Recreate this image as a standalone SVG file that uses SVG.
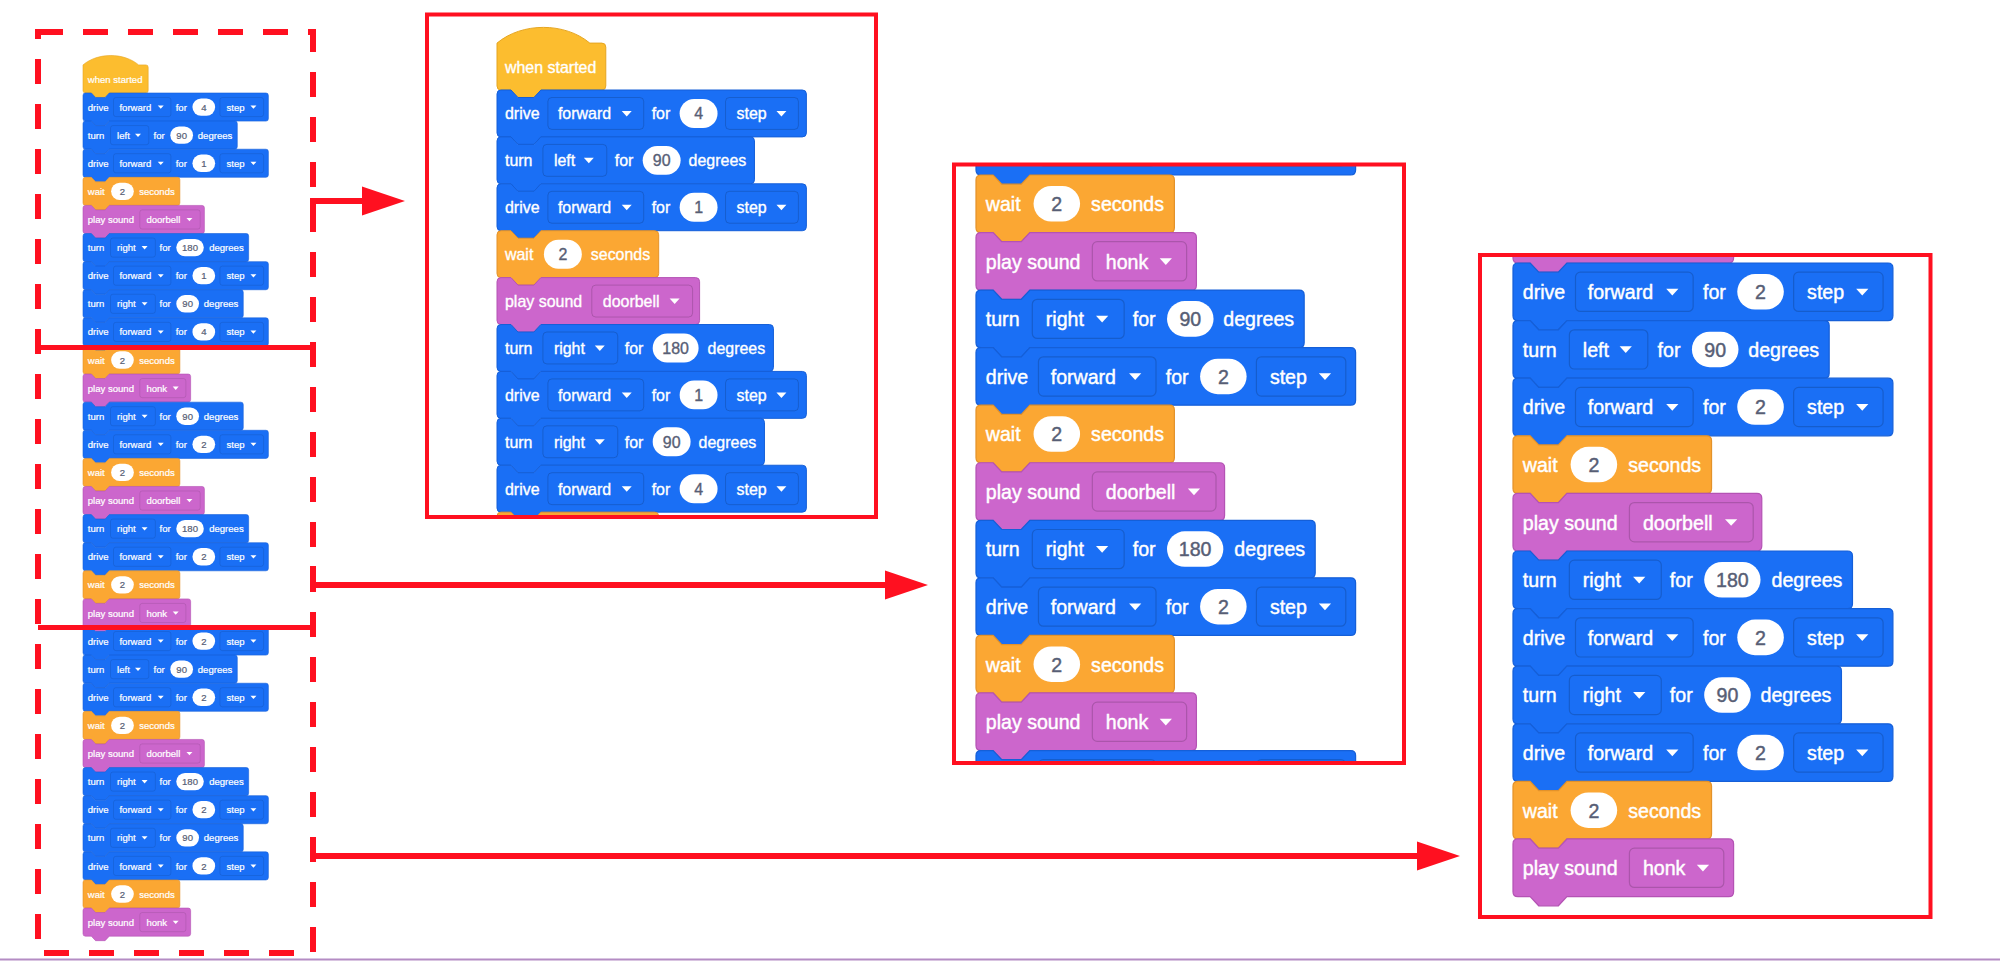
<svg xmlns="http://www.w3.org/2000/svg" xmlns:xlink="http://www.w3.org/1999/xlink" width="2000" height="961" viewBox="0 0 2000 961">
<style>
text{font-family:"Liberation Sans",Arial,Helvetica,sans-serif;font-size:16px;fill:#ffffff;stroke:#ffffff;stroke-width:0.35px}
.n{fill:#575e75;stroke:#575e75;text-anchor:middle}
.blue{fill:#1a6ff5;stroke:#155fd8;stroke-width:1}
.orange{fill:#fba733;stroke:#e3922a;stroke-width:1}
.yellow{fill:#fcbd2f;stroke:#e5a520;stroke-width:1}
.purple{fill:#cc66cc;stroke:#b453b4;stroke-width:1}
.dd{fill:none;stroke:rgba(0,0,0,0.16);stroke-width:1}
.ov{fill:#ffffff}
.tri{fill:#ffffff}
.box{fill:none;stroke:#ff1020;stroke-width:4}
.dash{fill:none;stroke:#ff1020;stroke-width:6;stroke-dasharray:25 20}
.div{fill:none;stroke:#ff1020;stroke-width:5}
</style>
<defs>
<marker id="ah" markerUnits="userSpaceOnUse" markerWidth="46" markerHeight="32" viewBox="-2 -16 46 32" refX="0" refY="0" orient="auto" overflow="visible"><path d="M-1,-14.5 L42,0 L-1,14.5 Z" fill="#ff1020"/></marker>
<g id="s-hat"><path class="yellow" d="M0,-47 C25,-68 68,-68 93,-47 H105 Q109,-47 109,-43 V-4 Q109,0 105,0 H44 L37,7.5 H21 L14,0 H4 Q0,0 0,-4 Z"/></g>
<g id="s-drive"><path class="blue" d="M0,4 Q0,0 4,0 H14 L21,7.5 H37 L44,0 H306 Q310,0 310,4 V43 Q310,47 306,47 H44 L37,54.5 H21 L14,47 H4 Q0,47 0,43 Z"/><rect class="dd" x="51" y="7.5" width="96" height="32" rx="4"/><rect class="ov" x="183" y="9" width="38" height="29" rx="14.5"/><rect class="dd" x="229" y="7.5" width="73" height="32" rx="4"/><path class="tri" d="M125,21 H135 L130,26.5 Z M280,21 H290 L285,26.5 Z"/></g>
<g id="s-tl90"><path class="blue" d="M0,4 Q0,0 4,0 H14 L21,7.5 H37 L44,0 H254 Q258,0 258,4 V43 Q258,47 254,47 H44 L37,54.5 H21 L14,47 H4 Q0,47 0,43 Z"/><rect class="dd" x="46" y="7.5" width="64" height="32" rx="4"/><rect class="ov" x="146" y="9" width="38" height="29" rx="14.5"/><path class="tri" d="M87,21 H97 L92,26.5 Z"/></g>
<g id="s-tr180"><path class="blue" d="M0,4 Q0,0 4,0 H14 L21,7.5 H37 L44,0 H273 Q277,0 277,4 V43 Q277,47 273,47 H44 L37,54.5 H21 L14,47 H4 Q0,47 0,43 Z"/><rect class="dd" x="46" y="7.5" width="75" height="32" rx="4"/><rect class="ov" x="156" y="9" width="46" height="29" rx="14.5"/><path class="tri" d="M98,21 H108 L103,26.5 Z"/></g>
<g id="s-tr90"><path class="blue" d="M0,4 Q0,0 4,0 H14 L21,7.5 H37 L44,0 H264 Q268,0 268,4 V43 Q268,47 264,47 H44 L37,54.5 H21 L14,47 H4 Q0,47 0,43 Z"/><rect class="dd" x="46" y="7.5" width="75" height="32" rx="4"/><rect class="ov" x="156" y="9" width="38" height="29" rx="14.5"/><path class="tri" d="M98,21 H108 L103,26.5 Z"/></g>
<g id="s-wait"><path class="orange" d="M0,4 Q0,0 4,0 H14 L21,7.5 H37 L44,0 H158 Q162,0 162,4 V43 Q162,47 158,47 H44 L37,54.5 H21 L14,47 H4 Q0,47 0,43 Z"/><rect class="ov" x="47" y="9" width="38" height="29" rx="14.5"/></g>
<g id="s-door"><path class="purple" d="M0,4 Q0,0 4,0 H14 L21,7.5 H37 L44,0 H199 Q203,0 203,4 V43 Q203,47 199,47 H44 L37,54.5 H21 L14,47 H4 Q0,47 0,43 Z"/><rect class="dd" x="95" y="7.5" width="101" height="32" rx="4"/><path class="tri" d="M173,21 H183 L178,26.5 Z"/></g>
<g id="s-honk"><path class="purple" d="M0,4 Q0,0 4,0 H14 L21,7.5 H37 L44,0 H176 Q180,0 180,4 V43 Q180,47 176,47 H44 L37,54.5 H21 L14,47 H4 Q0,47 0,43 Z"/><rect class="dd" x="95" y="7.5" width="77" height="32" rx="4"/><path class="tri" d="M150,21 H160 L155,26.5 Z"/></g>
<clipPath id="c1"><rect x="427" y="14.5" width="449" height="502.5"/></clipPath>
<clipPath id="c2"><rect x="954" y="164.5" width="450" height="598.5"/></clipPath>
<clipPath id="c3"><rect x="1480" y="255" width="450.5" height="662"/></clipPath>
</defs>
<rect width="2000" height="961" fill="#ffffff"/>

<!-- Full program (left) -->
<g id="full-program">
<g transform="translate(83,93) scale(0.598)">
<g id="f-b1"><use href="#s-hat"/><text x="8" y="-17.5">when started</text></g>
<g id="f-b2" transform="translate(0,0)"><use href="#s-drive"/><text y="29.5"><tspan x="8">drive</tspan><tspan x="61">forward</tspan><tspan x="155">for</tspan><tspan x="240">step</tspan></text><text class="n" x="202" y="29.5">4</text></g>
<g id="f-b3" transform="translate(0,47)"><use href="#s-tl90"/><text y="29.5"><tspan x="8">turn</tspan><tspan x="57">left</tspan><tspan x="118">for</tspan><tspan x="192">degrees</tspan></text><text class="n" x="165" y="29.5">90</text></g>
<g id="f-b4" transform="translate(0,94)"><use href="#s-drive"/><text y="29.5"><tspan x="8">drive</tspan><tspan x="61">forward</tspan><tspan x="155">for</tspan><tspan x="240">step</tspan></text><text class="n" x="202" y="29.5">1</text></g>
<g id="f-b5" transform="translate(0,141)"><use href="#s-wait"/><text y="29.5"><tspan x="8">wait</tspan><tspan x="94">seconds</tspan></text><text class="n" x="66" y="29.5">2</text></g>
<g id="f-b6" transform="translate(0,188)"><use href="#s-door"/><text y="29.5"><tspan x="8">play sound</tspan><tspan x="106">doorbell</tspan></text></g>
<g id="f-b7" transform="translate(0,235)"><use href="#s-tr180"/><text y="29.5"><tspan x="8">turn</tspan><tspan x="57">right</tspan><tspan x="128">for</tspan><tspan x="211">degrees</tspan></text><text class="n" x="179" y="29.5">180</text></g>
<g id="f-b8" transform="translate(0,282)"><use href="#s-drive"/><text y="29.5"><tspan x="8">drive</tspan><tspan x="61">forward</tspan><tspan x="155">for</tspan><tspan x="240">step</tspan></text><text class="n" x="202" y="29.5">1</text></g>
<g id="f-b9" transform="translate(0,329)"><use href="#s-tr90"/><text y="29.5"><tspan x="8">turn</tspan><tspan x="57">right</tspan><tspan x="128">for</tspan><tspan x="202">degrees</tspan></text><text class="n" x="175" y="29.5">90</text></g>
<g id="f-b10" transform="translate(0,376)"><use href="#s-drive"/><text y="29.5"><tspan x="8">drive</tspan><tspan x="61">forward</tspan><tspan x="155">for</tspan><tspan x="240">step</tspan></text><text class="n" x="202" y="29.5">4</text></g>
<g id="f-b11" transform="translate(0,423)"><use href="#s-wait"/><text y="29.5"><tspan x="8">wait</tspan><tspan x="94">seconds</tspan></text><text class="n" x="66" y="29.5">2</text></g>
<g id="f-b12" transform="translate(0,470)"><use href="#s-honk"/><text y="29.5"><tspan x="8">play sound</tspan><tspan x="106">honk</tspan></text></g>
<g id="f-b13" transform="translate(0,517)"><use href="#s-tr90"/><text y="29.5"><tspan x="8">turn</tspan><tspan x="57">right</tspan><tspan x="128">for</tspan><tspan x="202">degrees</tspan></text><text class="n" x="175" y="29.5">90</text></g>
<g id="f-b14" transform="translate(0,564)"><use href="#s-drive"/><text y="29.5"><tspan x="8">drive</tspan><tspan x="61">forward</tspan><tspan x="155">for</tspan><tspan x="240">step</tspan></text><text class="n" x="202" y="29.5">2</text></g>
<g id="f-b15" transform="translate(0,611)"><use href="#s-wait"/><text y="29.5"><tspan x="8">wait</tspan><tspan x="94">seconds</tspan></text><text class="n" x="66" y="29.5">2</text></g>
<g id="f-b16" transform="translate(0,658)"><use href="#s-door"/><text y="29.5"><tspan x="8">play sound</tspan><tspan x="106">doorbell</tspan></text></g>
<g id="f-b17" transform="translate(0,705)"><use href="#s-tr180"/><text y="29.5"><tspan x="8">turn</tspan><tspan x="57">right</tspan><tspan x="128">for</tspan><tspan x="211">degrees</tspan></text><text class="n" x="179" y="29.5">180</text></g>
<g id="f-b18" transform="translate(0,752)"><use href="#s-drive"/><text y="29.5"><tspan x="8">drive</tspan><tspan x="61">forward</tspan><tspan x="155">for</tspan><tspan x="240">step</tspan></text><text class="n" x="202" y="29.5">2</text></g>
<g id="f-b19" transform="translate(0,799)"><use href="#s-wait"/><text y="29.5"><tspan x="8">wait</tspan><tspan x="94">seconds</tspan></text><text class="n" x="66" y="29.5">2</text></g>
<g id="f-b20" transform="translate(0,846)"><use href="#s-honk"/><text y="29.5"><tspan x="8">play sound</tspan><tspan x="106">honk</tspan></text></g>
<g id="f-b21" transform="translate(0,893)"><use href="#s-drive"/><text y="29.5"><tspan x="8">drive</tspan><tspan x="61">forward</tspan><tspan x="155">for</tspan><tspan x="240">step</tspan></text><text class="n" x="202" y="29.5">2</text></g>
<g id="f-b22" transform="translate(0,940)"><use href="#s-tl90"/><text y="29.5"><tspan x="8">turn</tspan><tspan x="57">left</tspan><tspan x="118">for</tspan><tspan x="192">degrees</tspan></text><text class="n" x="165" y="29.5">90</text></g>
<g id="f-b23" transform="translate(0,987)"><use href="#s-drive"/><text y="29.5"><tspan x="8">drive</tspan><tspan x="61">forward</tspan><tspan x="155">for</tspan><tspan x="240">step</tspan></text><text class="n" x="202" y="29.5">2</text></g>
<g id="f-b24" transform="translate(0,1034)"><use href="#s-wait"/><text y="29.5"><tspan x="8">wait</tspan><tspan x="94">seconds</tspan></text><text class="n" x="66" y="29.5">2</text></g>
<g id="f-b25" transform="translate(0,1081)"><use href="#s-door"/><text y="29.5"><tspan x="8">play sound</tspan><tspan x="106">doorbell</tspan></text></g>
<g id="f-b26" transform="translate(0,1128)"><use href="#s-tr180"/><text y="29.5"><tspan x="8">turn</tspan><tspan x="57">right</tspan><tspan x="128">for</tspan><tspan x="211">degrees</tspan></text><text class="n" x="179" y="29.5">180</text></g>
<g id="f-b27" transform="translate(0,1175)"><use href="#s-drive"/><text y="29.5"><tspan x="8">drive</tspan><tspan x="61">forward</tspan><tspan x="155">for</tspan><tspan x="240">step</tspan></text><text class="n" x="202" y="29.5">2</text></g>
<g id="f-b28" transform="translate(0,1222)"><use href="#s-tr90"/><text y="29.5"><tspan x="8">turn</tspan><tspan x="57">right</tspan><tspan x="128">for</tspan><tspan x="202">degrees</tspan></text><text class="n" x="175" y="29.5">90</text></g>
<g id="f-b29" transform="translate(0,1269)"><use href="#s-drive"/><text y="29.5"><tspan x="8">drive</tspan><tspan x="61">forward</tspan><tspan x="155">for</tspan><tspan x="240">step</tspan></text><text class="n" x="202" y="29.5">2</text></g>
<g id="f-b30" transform="translate(0,1316)"><use href="#s-wait"/><text y="29.5"><tspan x="8">wait</tspan><tspan x="94">seconds</tspan></text><text class="n" x="66" y="29.5">2</text></g>
<g id="f-b31" transform="translate(0,1363)"><use href="#s-honk"/><text y="29.5"><tspan x="8">play sound</tspan><tspan x="106">honk</tspan></text></g>
</g>
<rect class="dash" x="38" y="32" width="275" height="921"/>
<path class="div" d="M38,347.5 H313 M38,627.5 H313"/>
</g>

<!-- Part 1 -->
<g id="part1">
<g clip-path="url(#c1)">
<g transform="translate(497,90) scale(0.998)">
<g id="p1-b1"><use href="#s-hat"/><text x="8" y="-17.5">when started</text></g>
<g id="p1-b2" transform="translate(0,0)"><use href="#s-drive"/><text y="29.5"><tspan x="8">drive</tspan><tspan x="61">forward</tspan><tspan x="155">for</tspan><tspan x="240">step</tspan></text><text class="n" x="202" y="29.5">4</text></g>
<g id="p1-b3" transform="translate(0,47)"><use href="#s-tl90"/><text y="29.5"><tspan x="8">turn</tspan><tspan x="57">left</tspan><tspan x="118">for</tspan><tspan x="192">degrees</tspan></text><text class="n" x="165" y="29.5">90</text></g>
<g id="p1-b4" transform="translate(0,94)"><use href="#s-drive"/><text y="29.5"><tspan x="8">drive</tspan><tspan x="61">forward</tspan><tspan x="155">for</tspan><tspan x="240">step</tspan></text><text class="n" x="202" y="29.5">1</text></g>
<g id="p1-b5" transform="translate(0,141)"><use href="#s-wait"/><text y="29.5"><tspan x="8">wait</tspan><tspan x="94">seconds</tspan></text><text class="n" x="66" y="29.5">2</text></g>
<g id="p1-b6" transform="translate(0,188)"><use href="#s-door"/><text y="29.5"><tspan x="8">play sound</tspan><tspan x="106">doorbell</tspan></text></g>
<g id="p1-b7" transform="translate(0,235)"><use href="#s-tr180"/><text y="29.5"><tspan x="8">turn</tspan><tspan x="57">right</tspan><tspan x="128">for</tspan><tspan x="211">degrees</tspan></text><text class="n" x="179" y="29.5">180</text></g>
<g id="p1-b8" transform="translate(0,282)"><use href="#s-drive"/><text y="29.5"><tspan x="8">drive</tspan><tspan x="61">forward</tspan><tspan x="155">for</tspan><tspan x="240">step</tspan></text><text class="n" x="202" y="29.5">1</text></g>
<g id="p1-b9" transform="translate(0,329)"><use href="#s-tr90"/><text y="29.5"><tspan x="8">turn</tspan><tspan x="57">right</tspan><tspan x="128">for</tspan><tspan x="202">degrees</tspan></text><text class="n" x="175" y="29.5">90</text></g>
<g id="p1-b10" transform="translate(0,376)"><use href="#s-drive"/><text y="29.5"><tspan x="8">drive</tspan><tspan x="61">forward</tspan><tspan x="155">for</tspan><tspan x="240">step</tspan></text><text class="n" x="202" y="29.5">4</text></g>
<g id="p1-b11" transform="translate(0,423)"><use href="#s-wait"/></g>
</g>
</g>
<rect class="box" x="427" y="14.5" width="449" height="502.5"/>
</g>

<!-- Part 2 -->
<g id="part2">
<g clip-path="url(#c2)">
<g transform="translate(976,175) scale(1.2245)">
<g id="p2-b10" transform="translate(0,-47)"><use href="#s-drive"/></g>
<g id="p2-b11" transform="translate(0,0)"><use href="#s-wait"/><text y="29.5"><tspan x="8">wait</tspan><tspan x="94">seconds</tspan></text><text class="n" x="66" y="29.5">2</text></g>
<g id="p2-b12" transform="translate(0,47)"><use href="#s-honk"/><text y="29.5"><tspan x="8">play sound</tspan><tspan x="106">honk</tspan></text></g>
<g id="p2-b13" transform="translate(0,94)"><use href="#s-tr90"/><text y="29.5"><tspan x="8">turn</tspan><tspan x="57">right</tspan><tspan x="128">for</tspan><tspan x="202">degrees</tspan></text><text class="n" x="175" y="29.5">90</text></g>
<g id="p2-b14" transform="translate(0,141)"><use href="#s-drive"/><text y="29.5"><tspan x="8">drive</tspan><tspan x="61">forward</tspan><tspan x="155">for</tspan><tspan x="240">step</tspan></text><text class="n" x="202" y="29.5">2</text></g>
<g id="p2-b15" transform="translate(0,188)"><use href="#s-wait"/><text y="29.5"><tspan x="8">wait</tspan><tspan x="94">seconds</tspan></text><text class="n" x="66" y="29.5">2</text></g>
<g id="p2-b16" transform="translate(0,235)"><use href="#s-door"/><text y="29.5"><tspan x="8">play sound</tspan><tspan x="106">doorbell</tspan></text></g>
<g id="p2-b17" transform="translate(0,282)"><use href="#s-tr180"/><text y="29.5"><tspan x="8">turn</tspan><tspan x="57">right</tspan><tspan x="128">for</tspan><tspan x="211">degrees</tspan></text><text class="n" x="179" y="29.5">180</text></g>
<g id="p2-b18" transform="translate(0,329)"><use href="#s-drive"/><text y="29.5"><tspan x="8">drive</tspan><tspan x="61">forward</tspan><tspan x="155">for</tspan><tspan x="240">step</tspan></text><text class="n" x="202" y="29.5">2</text></g>
<g id="p2-b19" transform="translate(0,376)"><use href="#s-wait"/><text y="29.5"><tspan x="8">wait</tspan><tspan x="94">seconds</tspan></text><text class="n" x="66" y="29.5">2</text></g>
<g id="p2-b20" transform="translate(0,423)"><use href="#s-honk"/><text y="29.5"><tspan x="8">play sound</tspan><tspan x="106">honk</tspan></text></g>
<g id="p2-b21" transform="translate(0,470)"><use href="#s-drive"/></g>
</g>
</g>
<rect class="box" x="954" y="164.5" width="450" height="598.5"/>
</g>

<!-- Part 3 -->
<g id="part3">
<g clip-path="url(#c3)">
<g transform="translate(1513,263) scale(1.2255)">
<g id="p3-b20" transform="translate(0,-47)"><use href="#s-honk"/></g>
<g id="p3-b21" transform="translate(0,0)"><use href="#s-drive"/><text y="29.5"><tspan x="8">drive</tspan><tspan x="61">forward</tspan><tspan x="155">for</tspan><tspan x="240">step</tspan></text><text class="n" x="202" y="29.5">2</text></g>
<g id="p3-b22" transform="translate(0,47)"><use href="#s-tl90"/><text y="29.5"><tspan x="8">turn</tspan><tspan x="57">left</tspan><tspan x="118">for</tspan><tspan x="192">degrees</tspan></text><text class="n" x="165" y="29.5">90</text></g>
<g id="p3-b23" transform="translate(0,94)"><use href="#s-drive"/><text y="29.5"><tspan x="8">drive</tspan><tspan x="61">forward</tspan><tspan x="155">for</tspan><tspan x="240">step</tspan></text><text class="n" x="202" y="29.5">2</text></g>
<g id="p3-b24" transform="translate(0,141)"><use href="#s-wait"/><text y="29.5"><tspan x="8">wait</tspan><tspan x="94">seconds</tspan></text><text class="n" x="66" y="29.5">2</text></g>
<g id="p3-b25" transform="translate(0,188)"><use href="#s-door"/><text y="29.5"><tspan x="8">play sound</tspan><tspan x="106">doorbell</tspan></text></g>
<g id="p3-b26" transform="translate(0,235)"><use href="#s-tr180"/><text y="29.5"><tspan x="8">turn</tspan><tspan x="57">right</tspan><tspan x="128">for</tspan><tspan x="211">degrees</tspan></text><text class="n" x="179" y="29.5">180</text></g>
<g id="p3-b27" transform="translate(0,282)"><use href="#s-drive"/><text y="29.5"><tspan x="8">drive</tspan><tspan x="61">forward</tspan><tspan x="155">for</tspan><tspan x="240">step</tspan></text><text class="n" x="202" y="29.5">2</text></g>
<g id="p3-b28" transform="translate(0,329)"><use href="#s-tr90"/><text y="29.5"><tspan x="8">turn</tspan><tspan x="57">right</tspan><tspan x="128">for</tspan><tspan x="202">degrees</tspan></text><text class="n" x="175" y="29.5">90</text></g>
<g id="p3-b29" transform="translate(0,376)"><use href="#s-drive"/><text y="29.5"><tspan x="8">drive</tspan><tspan x="61">forward</tspan><tspan x="155">for</tspan><tspan x="240">step</tspan></text><text class="n" x="202" y="29.5">2</text></g>
<g id="p3-b30" transform="translate(0,423)"><use href="#s-wait"/><text y="29.5"><tspan x="8">wait</tspan><tspan x="94">seconds</tspan></text><text class="n" x="66" y="29.5">2</text></g>
<g id="p3-b31" transform="translate(0,470)"><use href="#s-honk"/><text y="29.5"><tspan x="8">play sound</tspan><tspan x="106">honk</tspan></text></g>
</g>
</g>
<rect class="box" x="1480" y="255" width="450.5" height="662"/>
</g>

<!-- Connectors -->
<g id="connectors" fill="none" stroke="#ff1020" stroke-width="6">
<path d="M313,230 V201 H363" marker-end="url(#ah)"/>
<path d="M313,566 V585 H886" marker-end="url(#ah)"/>
<path d="M313,837 V856 H1418" marker-end="url(#ah)"/>
</g>

<line x1="0" y1="959.5" x2="2000" y2="959.5" stroke="#b48cc4" stroke-width="2"/>
</svg>
